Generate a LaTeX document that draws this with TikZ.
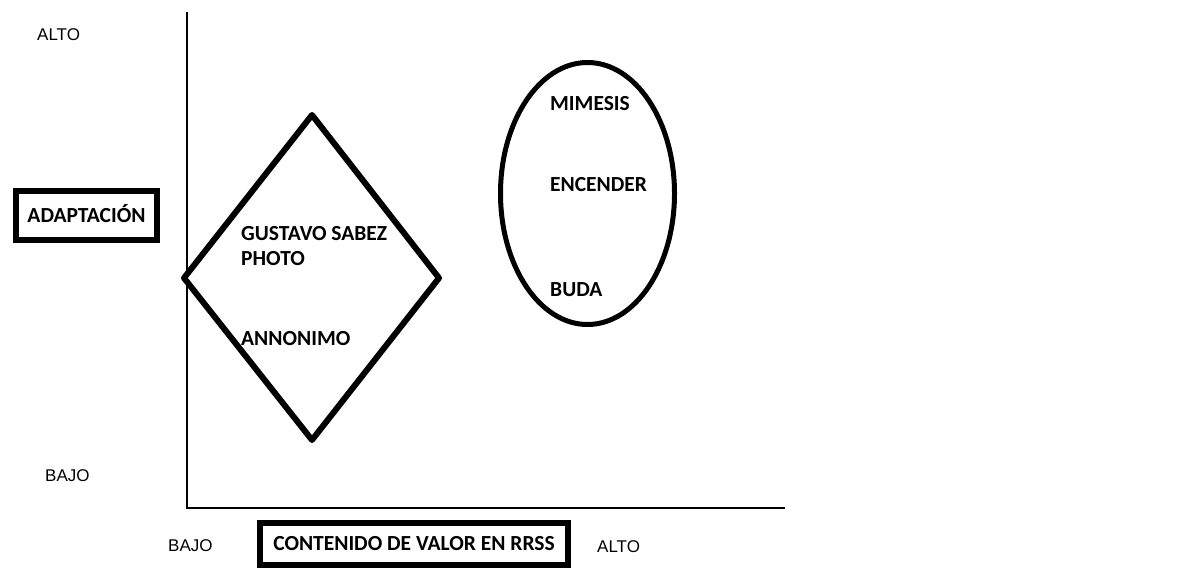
\documentclass[tikz,border=0pt]{standalone}
\usepackage{fontspec}
\setmainfont{Liberation Sans}
\newfontfamily\calfont{Carlito}
\begin{document}
\begin{tikzpicture}[x=1pt,y=-1pt,
  lbl/.style={font=\fontsize{17}{20}\selectfont, inner sep=0pt, anchor=base west},
  bld/.style={font=\calfont\bfseries\fontsize{21.5}{24}\selectfont, inner sep=0pt, anchor=base west},
  boxed/.style={draw, line width=6pt, inner sep=0pt, font=\calfont\bfseries\fontsize{21.5}{24}\selectfont, text height=13.85pt, text depth=0pt},
  axisline/.style={line width=1.4pt},
  shapeline/.style={line width=6pt, line join=round}]
\useasboundingbox (0,0) rectangle (1204,573);
\fill[white] (0,0) rectangle (1204,573);
% axes
\coordinate (ytop) at (187,12);
\coordinate (orig) at (187,508);
\coordinate (xend) at (785,508);
\draw[axisline] (ytop) -- (orig) -- (xend);
% axis labels
\node[lbl] (altoy) at (37,40.7) {ALTO};
\node[lbl] (bajoy) at (45,481) {BAJO};
\node[lbl] (bajox) at (168,551.5) {BAJO};
\node[lbl] (altox) at (597,552) {ALTO};
\node[boxed, minimum width=141pt, minimum height=49pt] (adap) at (86.5,215.5) {ADAPTACIÓN};
\node[boxed, minimum width=308pt, minimum height=42pt] (cont) at (414,543.5) {CONTENIDO DE VALOR EN RRSS};
% diamond
\coordinate (dt) at (312,115);
\coordinate (dl) at (184,278);
\coordinate (dr) at (439,278);
\coordinate (db) at (312,440);
\draw[shapeline] (dt) -- (dr) -- (db) -- (dl) -- cycle;
\node[bld] (gus) at (241,240) {GUSTAVO SABEZ};
\node[bld] (pho) at (241,265.7) {PHOTO};
\node[bld] (ann) at (241,345.7) {ANNONIMO};
% ellipse
\coordinate (ec) at (587.5,193.5);
\draw[line width=5pt] (ec) ellipse [x radius=87, y radius=131];
\node[bld] (mim) at (550,110) {MIMESIS};
\node[bld] (enc) at (550,191.7) {ENCENDER};
\node[bld] (bud) at (550,296.7) {BUDA};
\end{tikzpicture}
\end{document}
